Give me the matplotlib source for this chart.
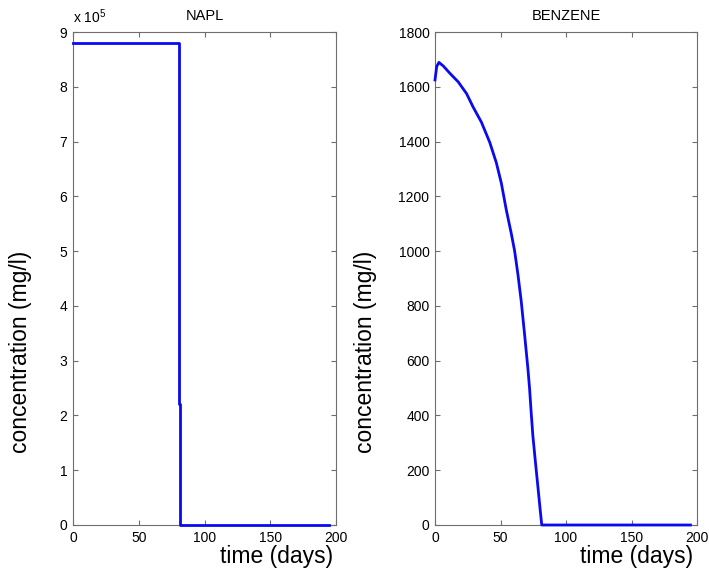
import numpy as np
import matplotlib
matplotlib.use("Agg")
import matplotlib.pyplot as plt
from matplotlib.ticker import FuncFormatter

plt.rcParams['font.family'] = ['Liberation Sans', 'DejaVu Sans']
plt.rcParams['mathtext.default'] = 'regular'

# NAPL concentration (mg/l) vs time (days)
napl_t = [0, 80.4, 80.4, 80.7, 80.7, 81.0, 81.0, 195]
napl_c = [8.8e5, 8.8e5, 6.6e5, 6.6e5, 2.2e5, 2.2e5, 0, 0]

# BENZENE concentration (mg/l) vs time (days)
benz_t = [0, 1.3, 3.0, 6.3, 11.4, 17.7, 24.1, 29.1, 35.4, 41.8, 46.8, 50.6, 54.4,
          58.2, 60.8, 63.3, 65.8, 68.4, 70.9, 72.2, 73.4, 74.7, 76.7, 78.5, 80.3, 81.5, 195]
benz_c = [1625, 1674, 1689, 1676, 1649, 1618, 1575, 1526, 1471, 1397, 1323, 1249, 1151,
          1065, 1000, 915, 818, 695, 572, 498, 412, 326, 228, 142, 55, 0, 0]

x_ticks = [0, 50, 100, 150, 200]
napl_yticks = np.arange(0, 9.5e5, 1e5)
benz_yticks = np.arange(0, 1801, 200)

W, H = 709, 571
fig = plt.figure(figsize=(W / 100, H / 100), dpi=100)
ax1 = fig.add_axes([73 / W, 1 - 525 / H, 263 / W, 493 / H])
ax2 = fig.add_axes([435 / W, 1 - 525 / H, 262 / W, 493 / H])

line_col = '#0a0af0'
axis_col = '#6e6e6e'


def style(ax):
    for s in ax.spines.values():
        s.set_color(axis_col)
        s.set_linewidth(0.8)
    ax.tick_params(direction='in', length=3.6, width=0.8, color=axis_col,
                   top=True, right=True, labelsize=10, pad=4, labelcolor='black')
    ax.set_xlim(0, 200)
    ax.set_xticks(x_ticks)


ax1.plot(napl_t, napl_c, color=line_col, lw=2.0, clip_on=False, zorder=3)
style(ax1)
ax1.set_ylim(0, 9e5)
ax1.set_yticks(napl_yticks)
ax1.yaxis.set_major_formatter(FuncFormatter(lambda v, p: '%d' % round(v / 1e5)))
ax1.text(0.0, 1.012, r'x 10$^5$', transform=ax1.transAxes, ha='left', va='bottom', fontsize=10)
ax1.text(0.5, 1.0325, 'NAPL', transform=ax1.transAxes, ha='center', va='center', fontsize=10.5)

ax2.plot(benz_t, benz_c, color=line_col, lw=2.0, clip_on=False, zorder=3)
style(ax2)
ax2.set_ylim(0, 1800)
ax2.set_yticks(benz_yticks)
ax2.text(0.5, 1.0325, 'BENZENE', transform=ax2.transAxes, ha='center', va='center', fontsize=10.5)

for ax, ylx, xlx in [(ax1, -0.2015, 0.9886), (ax2, -0.267, 0.985)]:
    ax.set_ylabel('concentration (mg/l)', fontsize=16.5, va='center')
    ax.yaxis.set_label_coords(ylx, 0.351)
    ax.set_xlabel('time (days)', fontsize=16.5, ha='right', va='center')
    ax.xaxis.set_label_coords(xlx, -0.0649)

fig.savefig('out.png', dpi=100, facecolor='white')
